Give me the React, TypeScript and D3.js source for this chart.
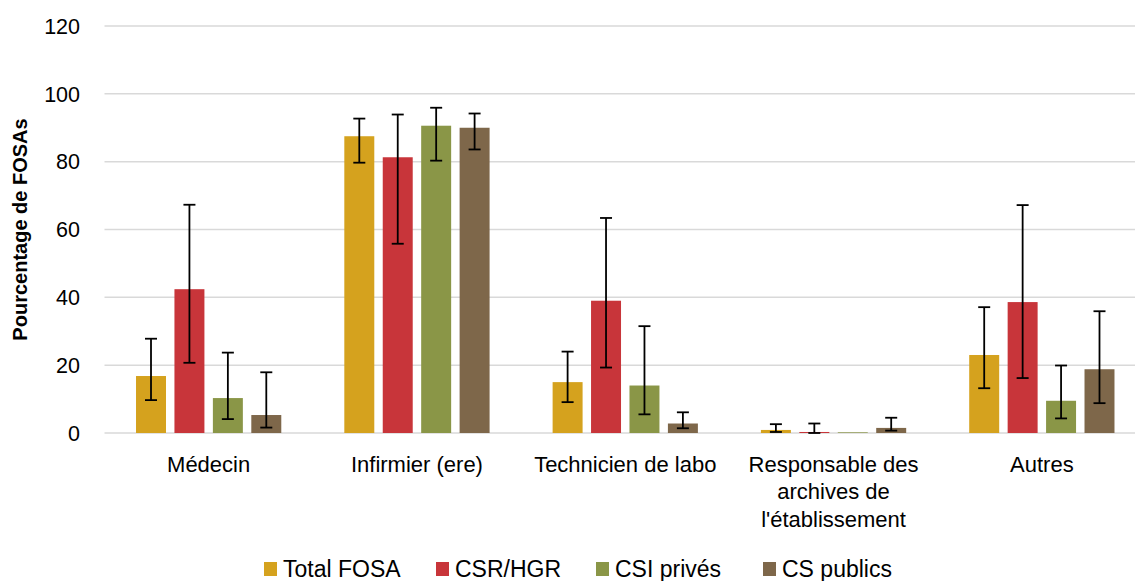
import React from "react";
import * as d3 from "d3";

const categories = ["Médecin", "Infirmier (ere)", "Technicien de labo", "Responsable des archives de l'établissement", "Autres"];
const categoryLines = [["Médecin"], ["Infirmier (ere)"], ["Technicien de labo"], ["Responsable des", "archives de", "l'établissement"], ["Autres"]];
const seriesNames = ["Total FOSA", "CSR/HGR", "CSI privés", "CS publics"];
const seriesColors = ["#D5A21E", "#C8353A", "#8A9647", "#7E674A"];

const totalFosa = [16.8, 87.5, 15.0, 0.9, 23.0];
const csrHgr = [42.4, 81.3, 39.0, 0.3, 38.6];
const csiPrives = [10.3, 90.6, 14.0, 0.2, 9.5];
const csPublics = [5.3, 90.0, 2.8, 1.5, 18.8];

const totalLow = [9.7, 79.7, 9.1, 0.3, 13.2];
const totalHigh = [27.8, 92.7, 24.0, 2.6, 37.1];
const csrLow = [20.7, 55.8, 19.3, 0.0, 16.2];
const csrHigh = [67.3, 93.9, 63.4, 2.8, 67.2];
const csiLow = [4.1, 80.3, 5.5, null, 4.3];
const csiHigh = [23.7, 95.9, 31.5, null, 19.9];
const csLow = [1.6, 83.6, 1.4, 0.7, 8.8];
const csHigh = [17.9, 94.2, 6.1, 4.5, 35.9];

const yTicks = [0, 20, 40, 60, 80, 100, 120];

const values = [totalFosa, csrHgr, csiPrives, csPublics];
const lows = [totalLow, csrLow, csiLow, csLow];
const highs = [totalHigh, csrHigh, csiHigh, csHigh];

export default function App() {
  const W = 1135, H = 581;
  const font = "'Liberation Sans', Arial, sans-serif";
  const x0 = d3.scaleBand<string>().domain(categories).range([104.5, 1146]).padding(0);
  const x1 = d3.scaleBand<string>().domain(seriesNames).range([0, x0.bandwidth()]).paddingInner(0.22).paddingOuter(0.82);
  const y = d3.scaleLinear().domain([0, 120]).range([433, 26]);
  const cap = 6;
  const legendPos = [264, 436, 596, 763];

  return (
    <svg width={W} height={H} style={{ position: "absolute", left: 0, top: 0, background: "#fff" }} fontFamily={font}>
      {yTicks.map((t) => (
        <g key={t}>
          <line x1={104.5} x2={W} y1={y(t)} y2={y(t)} stroke="#d9d9d9" strokeWidth={1.5} />
          <text x={80} y={y(t)} dy="0.36em" textAnchor="end" fontSize={21.5} fill="#000">{t}</text>
        </g>
      ))}
      <text transform={`translate(27,${y(60)}) rotate(-90)`} textAnchor="middle" fontSize={20} fontWeight="bold" fill="#000">Pourcentage de FOSAs</text>
      {categories.map((c, ci) => (
        <g key={c}>
          {seriesNames.map((s, si) => {
            const v = values[si][ci];
            const bx = (x0(c) as number) + (x1(s) as number);
            const bw = x1.bandwidth();
            return (
              <rect key={s} x={bx} y={y(v)} width={bw} height={y(0) - y(v)} fill={seriesColors[si]} />
            );
          })}
          {seriesNames.map((s, si) => {
            const lo = lows[si][ci];
            const hi = highs[si][ci];
            if (lo == null || hi == null) return null;
            const cx = (x0(c) as number) + (x1(s) as number) + x1.bandwidth() / 2;
            return (
              <g key={"e" + s} stroke="#000" strokeWidth={1.8}>
                <line x1={cx} x2={cx} y1={y(lo)} y2={y(hi)} />
                <line x1={cx - cap} x2={cx + cap} y1={y(lo)} y2={y(lo)} />
                <line x1={cx - cap} x2={cx + cap} y1={y(hi)} y2={y(hi)} />
              </g>
            );
          })}
          {categoryLines[ci].map((ln, li) => (
            <text key={li} x={(x0(c) as number) + x0.bandwidth() / 2} y={472 + li * 27.3} textAnchor="middle" fontSize={22} fill="#000">{ln}</text>
          ))}
        </g>
      ))}
      {seriesNames.map((s, si) => {
        const lx = legendPos[si];
        return (
          <g key={s}>
            <rect x={lx} y={562} width={13} height={14} fill={seriesColors[si]} />
            <text x={lx + 19} y={577} fontSize={23} fill="#000">{s}</text>
          </g>
        );
      })}
    </svg>
  );
}
